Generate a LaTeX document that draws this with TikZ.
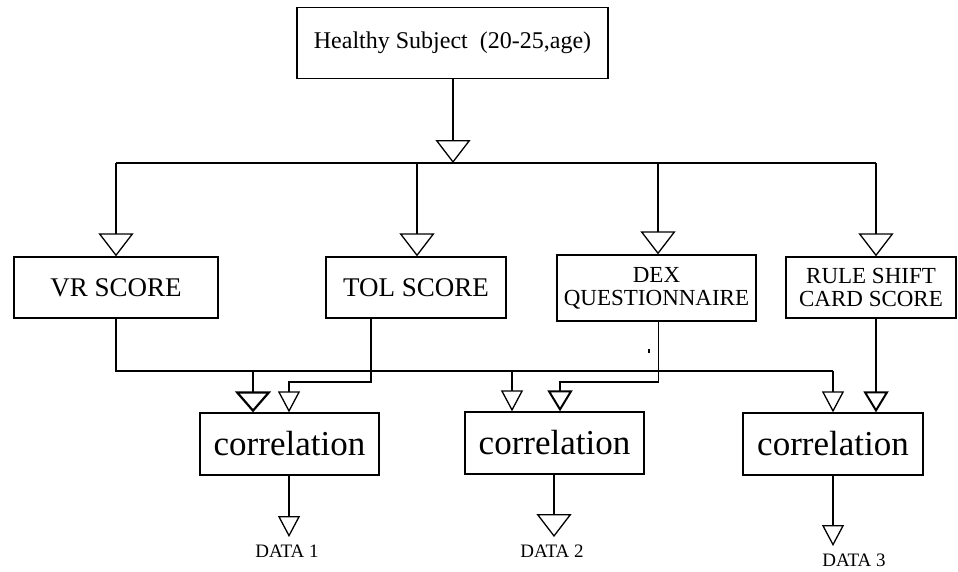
\documentclass[tikz,border=0pt]{standalone}
\usepackage{fontspec}
\setmainfont{Liberation Serif}
\usetikzlibrary{arrows.meta}
\begin{document}
\begin{tikzpicture}[x=1pt,y=-1pt,
  line width=1.3pt,
  box/.style={draw, line width=1.3pt, inner sep=0pt, align=center, anchor=center},
  arrbig/.style={-{Triangle[open,length=23pt,width=35pt]}},
  arrsmall/.style={-{Triangle[open,length=21pt,width=22pt]}},
  arrthick/.style={-{Triangle[open,length=21pt,width=25pt,line width=2pt]}},
  arrthickbig/.style={-{Triangle[open,length=21pt,width=36pt,line width=2.2pt]}},
  lbl/.style={font=\fontsize{24}{27}\selectfont},
  lblbig/.style={font=\fontsize{27}{30}\selectfont},
  lbltwo/.style={font=\fontsize{23}{23}\selectfont},
  corr/.style={font=\fontsize{35}{40}\selectfont},
  dlbl/.style={font=\fontsize{19}{21}\selectfont, inner sep=0pt}
]
\useasboundingbox (0,0) rectangle (958,571);
\fill[white] (0,0) rectangle (958,571);

% boxes
\node[box, lbl, minimum width=311pt, minimum height=71pt] (hs) at (452.5,43) {Healthy Subject~~(20-25,age)};
\node[box, lblbig, minimum width=204pt, minimum height=61pt] (vr) at (116,287.5) {VR SCORE};
\node[box, lblbig, minimum width=180pt, minimum height=61pt] (tol) at (416,287.5) {TOL SCORE};
\node[box, lbltwo, minimum width=199pt, minimum height=66pt] (dex) at (656.5,288) {DEX\\QUESTIONNAIRE};
\node[box, lbltwo, minimum width=170pt, minimum height=61pt] (rule) at (871,287.5) {RULE SHIFT\\CARD SCORE};
\node[box, corr, minimum width=179pt, minimum height=62pt] (c1) at (289.5,444) {correlation};
\node[box, corr, minimum width=179pt, minimum height=62pt] (c2) at (554.5,443) {correlation};
\node[box, corr, minimum width=180pt, minimum height=62pt] (c3) at (833,444) {correlation};

% output labels
\node[dlbl] (d1) at (287,551) {DATA 1};
\node[dlbl] (d2) at (552,551) {DATA 2};
\node[dlbl] (d3) at (854,560) {DATA 3};

% coordinates
\coordinate (j) at (453,163);
\coordinate (b1) at (116,163);
\coordinate (b2) at (417,163);
\coordinate (b3) at (658,163);
\coordinate (b4) at (876,163);
\coordinate (k1) at (253,371);
\coordinate (k2) at (512,371);
\coordinate (k3) at (833,371);
\coordinate (m1) at (289,382);
\coordinate (m2) at (560,382);
\coordinate (e1) at (289,537);
\coordinate (e2) at (554,537);
\coordinate (e3) at (833,546);

% top
\draw[arrbig] (hs.south -| j) -- (j);
\draw (b1) -- (b4);
\draw[arrbig] (b1) -- (b1 |- vr.north);
\draw[arrbig] (b2) -- (b2 |- tol.north);
\draw[arrbig] (b3) -- (b3 |- dex.north);
\draw[arrbig] (b4) -- (b4 |- rule.north);

% to correlations
\draw (vr.south) |- (k3);
\draw[arrthickbig] (k1) -- (k1 |- c1.north);
\draw[arrsmall] (k2) -- (k2 |- c2.north);
\draw[arrsmall] (k3) -- (k3 |- c3.north);
\draw[arrsmall] ([xshift=45.65pt]tol.south west) |- (m1) -- (m1 |- c1.north);
\draw[arrthick] ([xshift=102.15pt]dex.south west) |- (m2) -- (m2 |- c2.north);
\draw[arrthick] (b4 |- rule.south) -- (b4 |- c3.north);
\draw[line width=1.5pt] (649,349) -- (649,353);

% outputs
\draw[arrsmall] (c1.south -| e1) -- (e1);
\draw[arrbig] (c2.south -| e2) -- (e2);
\draw[arrsmall] (c3.south -| e3) -- (e3);
\end{tikzpicture}
\end{document}
